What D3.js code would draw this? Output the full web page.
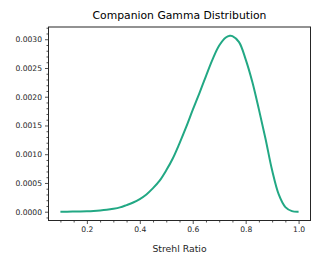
<!DOCTYPE html>
<html>
<head>
<meta charset="utf-8">
<script src="https://cdn.jsdelivr.net/npm/d3@7"></script>
<style>
  html, body { margin: 0; padding: 0; background: #fff; }
  svg { display: block; font-family: "DejaVu Sans", sans-serif; }
</style>
</head>
<body>
<div id="chart"></div>
<script>
// Values
const strehl = [0.1, 0.125, 0.15, 0.175, 0.2, 0.225, 0.25, 0.275, 0.3, 0.325, 0.35, 0.375,
  0.4, 0.425, 0.45, 0.475, 0.5, 0.525, 0.55, 0.575, 0.6, 0.625, 0.65, 0.675,
  0.7, 0.725, 0.74, 0.75, 0.775, 0.8, 0.825, 0.85, 0.875, 0.9, 0.925, 0.95, 0.975, 1.0];
const density = [0, 0.000001, 0.000002, 0.000004, 0.000007, 0.000012, 0.00002, 0.000032, 0.00005, 0.000075, 0.000115, 0.00016,
  0.00022, 0.0003, 0.00041, 0.00054, 0.00072, 0.00093, 0.00119, 0.00147, 0.00177, 0.00206, 0.00236, 0.00265,
  0.00289, 0.00303, 0.00306, 0.003055, 0.00295, 0.00265, 0.00226, 0.00178, 0.00127, 0.00072, 0.0003, 0.00008, 0.00001, 0];
const xTicks = [0.2, 0.4, 0.6, 0.8, 1.0];
const yTicks = [0, 0.0005, 0.001, 0.0015, 0.002, 0.0025, 0.003];

const W = 321, H = 265;
const plot = { left: 48.5, right: 310.5, top: 27, bottom: 220.5 };
const ink = "#262626";
const lineColor = "#22a884";

const svg = d3.select("#chart").append("svg")
  .attr("width", W).attr("height", H);

const x = d3.scaleLinear().domain([0.055, 1.045]).range([plot.left, plot.right]);
const y = d3.scaleLinear().domain([-0.000153, 0.003213]).range([plot.bottom, plot.top]);

// minor ticks
const xMinor = d3.range(0.1, 1.0001, 0.05).filter(v => !xTicks.some(t => Math.abs(t - v) < 1e-6));
const yMinor = d3.range(-0.0001, 0.00321, 0.0001).filter(v => !yTicks.some(t => Math.abs(t - v) < 1e-9));

svg.append("g")
  .attr("transform", `translate(0,${plot.bottom})`)
  .call(d3.axisBottom(x).tickValues(xTicks).tickFormat(d3.format(".1f")).tickSize(3.5).tickPadding(3).tickSizeOuter(0));
svg.append("g")
  .attr("transform", `translate(0,${plot.bottom})`)
  .call(d3.axisBottom(x).tickValues(xMinor).tickFormat("").tickSize(2).tickSizeOuter(0));

svg.append("g")
  .attr("transform", `translate(${plot.left},0)`)
  .call(d3.axisLeft(y).tickValues(yTicks).tickFormat(d3.format(".4f")).tickSize(3.5).tickPadding(3).tickSizeOuter(0));
svg.append("g")
  .attr("transform", `translate(${plot.left},0)`)
  .call(d3.axisLeft(y).tickValues(yMinor).tickFormat("").tickSize(2).tickSizeOuter(0));

svg.selectAll(".domain").remove();
svg.selectAll(".tick line").attr("stroke", ink).attr("stroke-width", 0.8);
svg.selectAll(".tick text").attr("fill", ink).style("font-size", "7.6px").style("font-family", "DejaVu Sans");

// curve
const pts = strehl.map((s, i) => ({ s, d: density[i] }));
svg.append("path")
  .datum(pts)
  .attr("fill", "none")
  .attr("stroke", lineColor)
  .attr("stroke-width", 2)
  .attr("d", d3.line().x(d => x(d.s)).y(d => y(d.d)).curve(d3.curveCatmullRom));

// frame
svg.append("rect")
  .attr("x", plot.left).attr("y", plot.top)
  .attr("width", plot.right - plot.left).attr("height", plot.bottom - plot.top)
  .attr("fill", "none").attr("stroke", ink).attr("stroke-width", 1);

svg.append("text")
  .attr("x", (plot.left + plot.right) / 2).attr("y", 18.5)
  .attr("text-anchor", "middle").attr("fill", "#000")
  .style("font-size", "10.8px")
  .text("Companion Gamma Distribution");

svg.append("text")
  .attr("x", (plot.left + plot.right) / 2).attr("y", 252)
  .attr("text-anchor", "middle").attr("fill", ink)
  .style("font-size", "9.3px")
  .text("Strehl Ratio");
</script>
</body>
</html>
